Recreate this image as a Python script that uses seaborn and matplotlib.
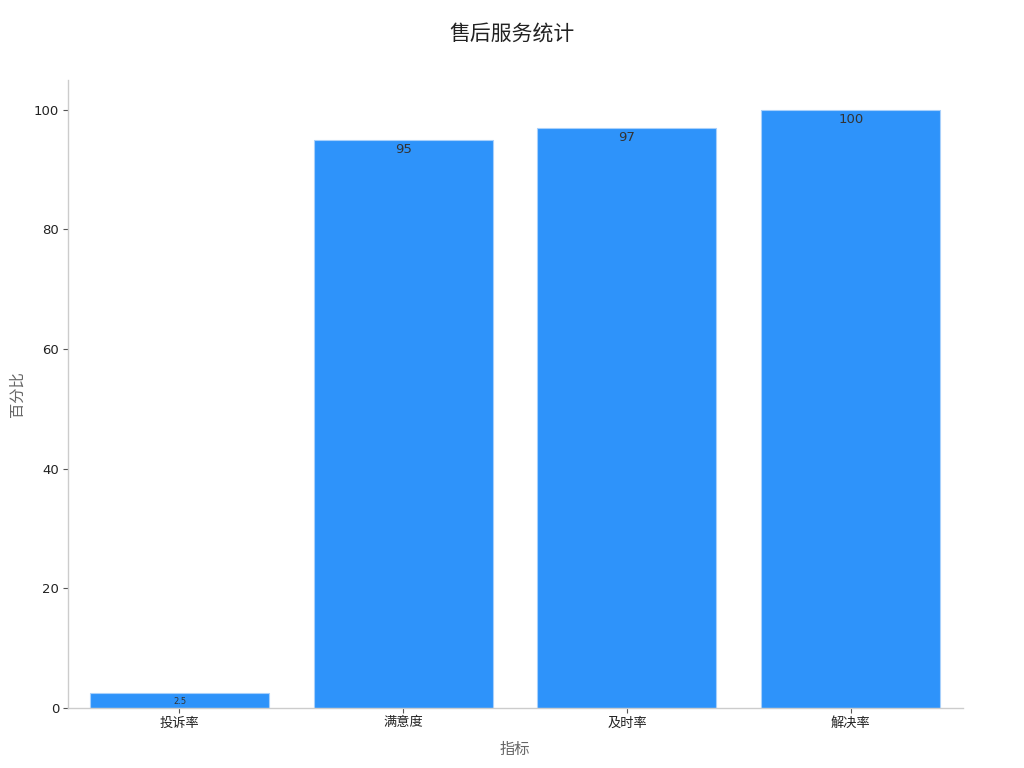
import matplotlib
matplotlib.use("Agg")
import matplotlib.pyplot as plt
import seaborn as sns
import pandas as pd

categories = ["投诉率", "满意度", "及时率", "解决率"]
values = [2.5, 95, 97, 100]
value_labels = ["2.5", "95", "97", "100"]

sns.set_theme(style="white")
plt.rcParams['font.family'] = ['Noto Sans CJK SC', 'DejaVu Sans']

df = pd.DataFrame({"指标": categories, "百分比": values})

fig = plt.figure(figsize=(10.24, 7.68), dpi=100)
ax = fig.add_axes([0.066, 0.078, 0.874, 0.818])

sns.barplot(data=df, x="指标", y="百分比", color="#2e93fa", saturation=1,
            width=0.8, edgecolor="#a8d0fb", linewidth=0.8, ax=ax)

for i, (v, lab) in enumerate(zip(values, value_labels)):
    fs = 6 if v < 10 else 9.5
    ax.text(i, v - 0.6, lab, ha="center", va="top", fontsize=fs,
            color="#333333", family=['DejaVu Sans'])

ax.set_xlim(-0.5, 3.5)
ax.set_ylim(0, 105)
ax.set_yticks([0, 20, 40, 60, 80, 100])
ax.tick_params(axis="both", which="both", length=3.5, width=0.8, pad=2.5,
               color="#555555", labelsize=9.5, labelcolor="#222222",
               left=True, bottom=True)
for lab in ax.get_yticklabels():
    lab.set_family(['DejaVu Sans'])

for s in ["top", "right"]:
    ax.spines[s].set_visible(False)
for s in ["left", "bottom"]:
    ax.spines[s].set_color("#cccccc")
    ax.spines[s].set_linewidth(1)

ax.set_xlabel("指标", fontsize=11, color="#666666", labelpad=8)
ax.set_ylabel("百分比", fontsize=11, color="#666666", labelpad=6)
fig.suptitle("售后服务统计", fontsize=15, color="#222222", y=0.97)

fig.savefig("out.png", dpi=100)
